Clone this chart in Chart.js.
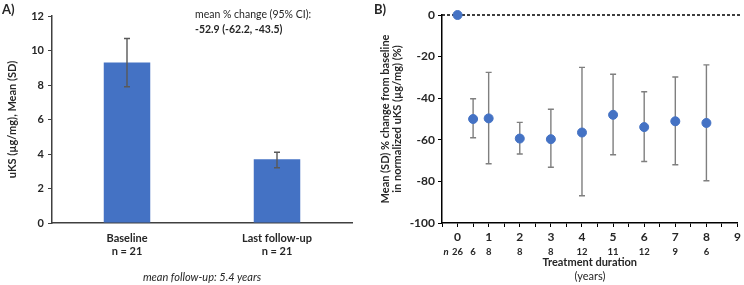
<!DOCTYPE html>
<html><head><meta charset="utf-8">
<script src="https://cdn.jsdelivr.net/npm/chart.js@4.4.0/dist/chart.umd.min.js"></script>
<style>
body{margin:0;background:#fff;font-family:Lato, sans-serif;color:#262626}
#wrap{position:relative;width:744px;height:285px;overflow:hidden}
canvas{position:absolute;top:0}
.lbl{position:absolute;font-size:11px;white-space:nowrap;line-height:13px}
</style></head><body>
<div id="wrap">
<canvas id="left" width="372" height="285" style="left:0"></canvas>
<canvas id="right" width="372" height="285" style="left:372px"></canvas>
<div class="lbl" style="left:2px;top:3px;font-weight:bold;font-size:13px">A)</div>
<div class="lbl" style="left:374px;top:3px;font-weight:bold;font-size:13px">B)</div>
<div class="lbl" style="left:195px;top:8px;font-size:10.5px">mean % change (95% CI):</div>
<div class="lbl" style="left:195px;top:23px;font-weight:bold;font-size:10.5px">-52.9 (-62.2, -43.5)</div>
<div class="lbl" style="left:202px;top:270px;transform:translateX(-50%);font-style:italic">mean follow-up: 5.4 years</div>
<div class="lbl" style="left:590px;top:269px;transform:translateX(-50%)">(years)</div>
</div>
<script>
/* ===== DATA ===== */
const barCats = [["Baseline","n = 21"],["Last follow-up","n = 21"]];
const barMeans = [9.3, 3.7];
const barLow   = [7.9, 3.2];
const barHigh  = [10.7, 4.1];

const years    = [0, 0.5, 1, 2, 3, 4, 5, 6, 7, 8];
const pctMean  = [0, -50, -49.7, -59.4, -59.7, -56.5, -48, -53.9, -51.1, -51.9];
const pctLow   = [0, -59, -71.5, -66.8, -73.2, -86.9, -67.2, -70.4, -72, -79.7];
const pctHigh  = [0, -40.3, -27.6, -51.6, -45.3, -25.2, -28.5, -36.9, -29.8, -24];
const nCounts  = [26, 6, 8, 8, 8, 12, 11, 12, 9, 6];

const BLUE = '#4472C4';
const FONT = 'Lato';

/* ===== PLUGINS ===== */
const errorBars = {
  id:'errorBars',
  draw(chart, opts){
    const meta = chart.getDatasetMeta(0), y = chart.scales.y, ctx = chart.ctx;
    ctx.save();
    ctx.strokeStyle = opts.color; ctx.lineWidth = 1.4;
    meta.data.forEach((el,i)=>{
      if(opts.low[i]===opts.high[i]) return;
      const x = el.x, y1 = y.getPixelForValue(opts.low[i]), y2 = y.getPixelForValue(opts.high[i]);
      ctx.beginPath();
      ctx.moveTo(x,y1); ctx.lineTo(x,y2);
      ctx.moveTo(x-opts.cap,y1); ctx.lineTo(x+opts.cap,y1);
      ctx.moveTo(x-opts.cap,y2); ctx.lineTo(x+opts.cap,y2);
      ctx.stroke();
    });
    ctx.restore();
  },
  beforeDatasetsDraw(chart,args,opts){ if(opts.before) this.draw(chart,opts); },
  afterDatasetsDraw(chart,args,opts){ if(!opts.before) this.draw(chart,opts); }
};

const zeroLine = {
  id:'zeroLine',
  beforeDatasetsDraw(chart){
    const {ctx, chartArea:a, scales:{y}} = chart;
    const py = y.getPixelForValue(0);
    ctx.save();
    ctx.strokeStyle = '#000'; ctx.lineWidth = 1.5; ctx.setLineDash([3,2]);
    ctx.beginPath(); ctx.moveTo(a.left, py); ctx.lineTo(a.right + 3, py); ctx.stroke();
    ctx.restore();
  }
};

const nRow = {
  id:'nRow',
  afterDraw(chart){
    const {ctx, chartArea:a, scales:{x}} = chart;
    const py = a.bottom + 29;
    ctx.save();
    ctx.fillStyle = '#262626'; ctx.textAlign = 'center'; ctx.textBaseline = 'middle';
    ctx.font = `italic bold 9.5px ${FONT}`;
    ctx.fillText('n', a.left + 4, py);
    ctx.font = `bold 9.5px ${FONT}`;
    years.forEach((v,i)=> ctx.fillText(String(nCounts[i]), x.getPixelForValue(v), py));
    ctx.restore();
  }
};

/* ===== LEFT: bar chart ===== */
new Chart(document.getElementById('left'), {
  type:'bar',
  data:{ labels:barCats, datasets:[{data:barMeans, backgroundColor:BLUE, categoryPercentage:1, barPercentage:0.31}] },
  options:{
    responsive:false, animation:false,
    layout:{padding:{top:16, right:20, left:0, bottom:0}},
    plugins:{ legend:{display:false}, tooltip:{enabled:false},
      errorBars:{low:barLow, high:barHigh, color:'#595959', cap:3, before:false} },
    scales:{
      x:{ grid:{display:false, drawTicks:false}, border:{display:true, color:'#404040', width:1.5},
          ticks:{color:'#262626', font:{family:FONT, size:11, weight:'bold'}, padding:9, maxRotation:0},
          afterFit:s=>{ s.height = 62; } },
      y:{ min:0, max:12, ticks:{stepSize:2, color:'#262626', padding:4, font:{family:FONT, size:11, weight:'bold'}},
          grid:{drawOnChartArea:false, tickLength:4, color:'#404040'}, border:{display:true, color:'#404040', width:1.5},
          title:{display:true, text:'uKS (µg/mg), Mean (SD)', color:'#262626', font:{family:FONT, size:11, weight:'bold'}, padding:{top:6, bottom:0}},
          afterFit:s=>{ s.width = 52; } }
    }
  },
  plugins:[errorBars]
});

/* ===== RIGHT: scatter with error bars ===== */
new Chart(document.getElementById('right'), {
  type:'scatter',
  data:{ datasets:[{ data:years.map((v,i)=>({x:v, y:pctMean[i]})), backgroundColor:BLUE, borderColor:BLUE, pointRadius:4.5, clip:false }] },
  options:{
    responsive:false, animation:false,
    layout:{padding:{top:15, right:5, left:0, bottom:0}},
    plugins:{ legend:{display:false}, tooltip:{enabled:false},
      errorBars:{low:pctLow, high:pctHigh, color:'#7f7f7f', cap:3, before:true} },
    scales:{
      x:{ type:'linear', min:-0.5, max:9,
          ticks:{stepSize:0.5, autoSkip:false, maxRotation:0, padding:3, color:'#262626',
                 font:{family:FONT, size:12, weight:'bold'},
                 callback:v=> Number.isInteger(v) ? String(v) : ''},
          grid:{drawOnChartArea:false, tickLength:4, color:'#000'}, border:{display:true, color:'#000', width:1.5},
          title:{display:true, text:'Treatment duration', color:'#262626', font:{family:FONT, size:11, weight:'bold'}, padding:{top:0, bottom:16}},
          afterFit:s=>{ s.height = 62; } },
      y:{ min:-100, max:0,
          ticks:{stepSize:20, color:'#262626', padding:3, font:{family:FONT, size:12, weight:'bold'}},
          grid:{drawOnChartArea:false, tickLength:4, color:'#000'}, border:{display:true, color:'#000', width:1.5},
          title:{display:true, text:['Mean (SD) % change from baseline','in normalized uKS (µg/mg) (%)'], color:'#262626',
                 font:{family:FONT, size:11, weight:'bold', lineHeight:1.1}, padding:{top:7, bottom:0}},
          afterFit:s=>{ s.width = 70; } }
    }
  },
  plugins:[errorBars, zeroLine, nRow]
});
</script>
</body></html>
